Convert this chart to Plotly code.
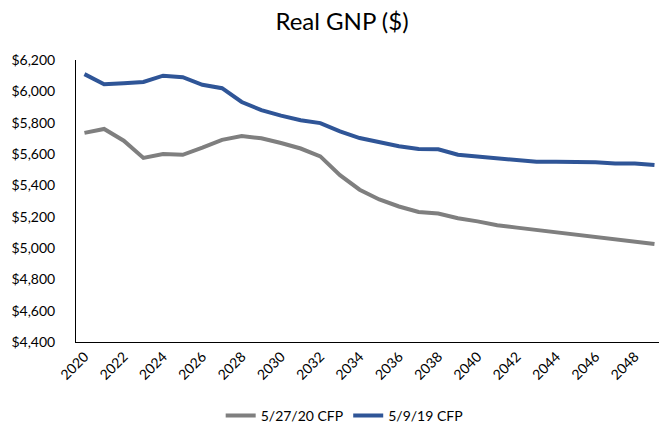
import plotly.graph_objects as go

years = list(range(2020, 2050))
cfp_2020 = [5735, 5760, 5685, 5575, 5600, 5595, 5640, 5690, 5715, 5700,
            5670, 5635, 5585, 5465, 5372, 5310, 5265, 5230, 5220, 5190,
            5170, 5145, 5130, 5115, 5105, 5085, 5075, 5055, 5045, 5025]
cfp_2019 = [6110, 6045, 6052, 6060, 6100, 6090, 6042, 6020, 5932, 5880,
            5845, 5815, 5797, 5745, 5702, 5675, 5650, 5632, 5630, 5595,
            5585, 5570, 5560, 5550, 5550, 5550, 5548, 5540, 5540, 5530]
tick_years = list(range(2020, 2050, 2))
y_ticks = list(range(4400, 6201, 200))

fig = go.Figure()
fig.add_trace(go.Scatter(x=years, y=cfp_2020, mode="lines", name="5/27/20 CFP",
                         line=dict(color="#7F7F7F", width=4)))
fig.add_trace(go.Scatter(x=years, y=cfp_2019, mode="lines", name="5/9/19 CFP",
                         line=dict(color="#2F5597", width=4)))

font_family = "Lato, Open Sans, sans-serif"
fig.update_layout(
    width=659, height=425,
    paper_bgcolor="white", plot_bgcolor="white",
    margin=dict(l=76, r=0, t=60, b=83),
    title=dict(text="Real GNP ($)", x=(342 / 659), xanchor="center", y=1 - 22/425, yanchor="middle",
               font=dict(family=font_family, size=24, color="black")),
    font=dict(family=font_family, size=14, color="black"),
    showlegend=True,
    legend=dict(orientation="h", x=0.46, xanchor="center",
                yref="container", y=1 - 416/425, yanchor="middle",
                font=dict(size=14), itemwidth=30, tracegroupgap=0),
    xaxis=dict(range=[2019.57, 2049.23], tickvals=tick_years,
               ticktext=[str(y) for y in tick_years], tickangle=-45,
               showgrid=False, zeroline=False, showline=True, linecolor="black",
               linewidth=1, ticks="", tickfont=dict(size=14), automargin=False),
    yaxis=dict(range=[4400, 6200], tickvals=y_ticks,
               ticktext=["${:,}".format(v) for v in y_ticks],
               showgrid=False, zeroline=False, showline=True, linecolor="black",
               linewidth=1, ticks="", tickfont=dict(size=14), ticklabelstandoff=17,
               automargin=False),
)

fig.write_html("out.html", config={"displayModeBar": False},
               post_script="document.body.style.margin='0';document.body.style.overflow='hidden';")
